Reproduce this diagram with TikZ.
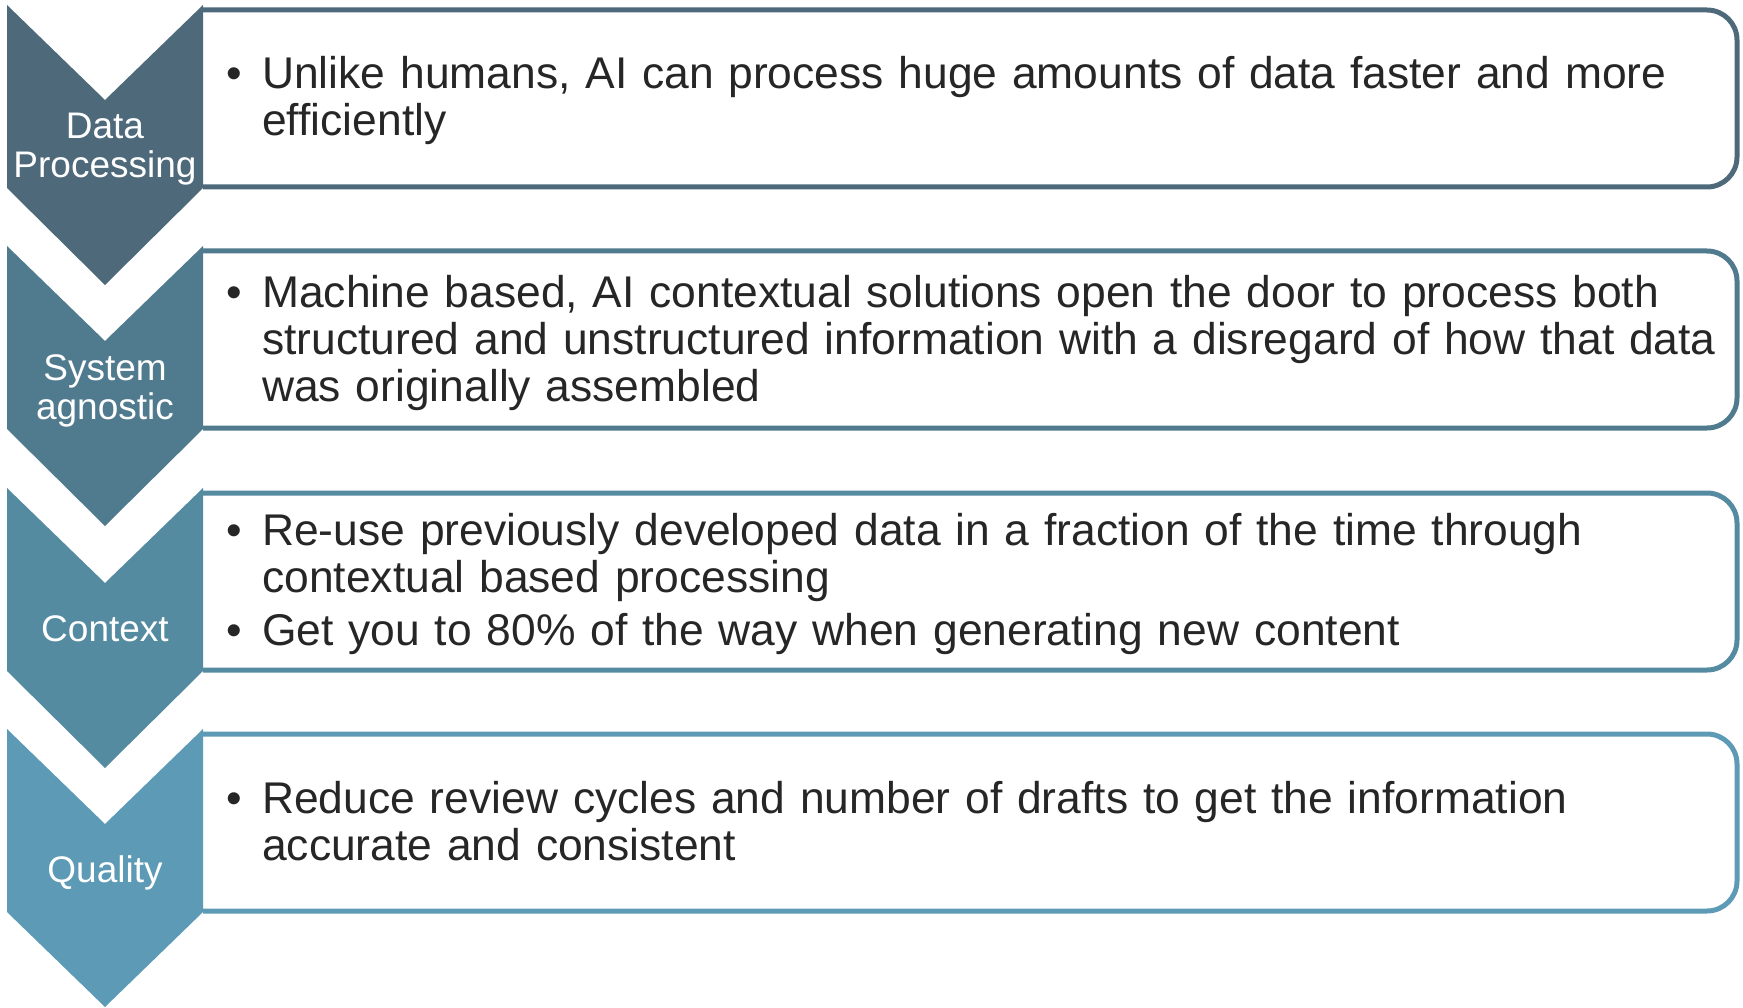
\documentclass[tikz,border=0pt]{standalone}
\usepackage{fontspec}
\setmainfont{Liberation Sans}
\usepackage{tikz}
\usepackage{xcolor}
\usetikzlibrary{positioning}
\definecolor{stageA}{RGB}{77,105,122}
\definecolor{stageB}{RGB}{80,122,142}
\definecolor{stageC}{RGB}{84,139,161}
\definecolor{stageD}{RGB}{92,154,181}
\definecolor{bodygray}{RGB}{38,38,38}
\newcommand{\bitem}[1]{\par\noindent\makebox[36pt][l]{\textbullet}\parbox[t]{1464pt}{\raggedright #1}}

\begin{document}
\begin{tikzpicture}[x=1pt,y=-1pt,
    label/.style={text=white,align=center,inner sep=0pt,font=\fontsize{37}{39}\selectfont},
    body/.style={text=bodygray,anchor=west,inner sep=0pt,text width=1500pt,font=\fontsize{44.4}{47}\selectfont},
    frame/.style={line width=5pt,rounded corners=30pt}]
    \useasboundingbox (0,0) rectangle (1743,1008);

    % Rounded text boxes, open on the left
    \draw[frame,stageA] (203,10) -- (1737,10) -- (1737,187) -- (203,187);
    \draw[frame,stageB] (203,251) -- (1737,251) -- (1737,428) -- (203,428);
    \draw[frame,stageC] (203,493) -- (1737,493) -- (1737,670) -- (203,670);
    \draw[frame,stageD] (203,734) -- (1737,734) -- (1737,911) -- (203,911);

    % Chevrons down the left side
    \fill[stageA] (7,5) -- (105,100) -- (203,5) -- (203,188) -- (105,285) -- (7,188) -- cycle;
    \fill[stageB] (7,246) -- (105,341) -- (203,246) -- (203,429) -- (105,526) -- (7,429) -- cycle;
    \fill[stageC] (7,488) -- (105,583) -- (203,488) -- (203,671) -- (105,768) -- (7,671) -- cycle;
    \fill[stageD] (7,729) -- (105,824) -- (203,729) -- (203,912) -- (105,1007) -- (7,912) -- cycle;

    % Stage names
    \node[label] (data) at (105,149.5) {Data\\Processing};
    \node[label] (agnostic) at (105,390.5) {System\\agnostic};
    \node[label] (context) at (105,629) {Context};
    \node[label] (quality) at (105,873) {Quality};

    % Bullet points
    \node[body] (dataText) at (226,93.5) {
        \bitem{Unlike humans, AI can process huge amounts of data faster and more\\efficiently}};
    \node[body] (agnosticText) at (226,335.5) {
        \bitem{Machine based, AI contextual solutions open the door to process both\\structured and unstructured information with a disregard of how that data\\was originally assembled}};
    \node[body] (contextText) at (226,576.5) {
        \bitem{Re-use previously developed data in a fraction of the time through\\contextual based processing}\par\vspace{10.5pt}
        \bitem{Get you to 80\% of the way when generating new content}};
    \node[body] (qualityText) at (226,814) {
        \bitem{Reduce review cycles and number of drafts to get the information\\accurate and consistent}};
\end{tikzpicture}
\end{document}
